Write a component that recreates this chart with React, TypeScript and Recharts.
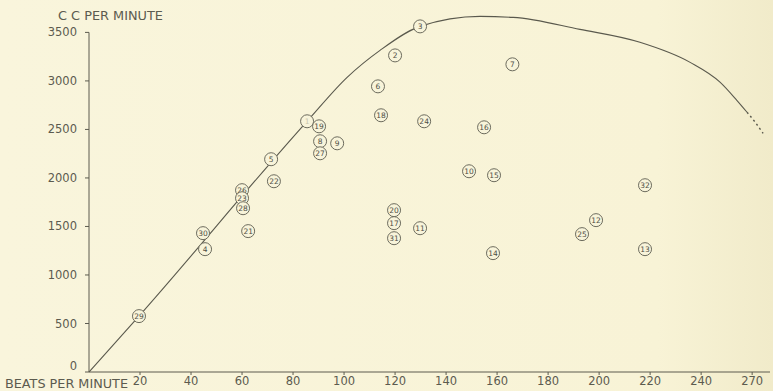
import React from 'react';
import { ComposedChart, Line, Scatter, XAxis, YAxis, ReferenceLine } from 'recharts';

// numbered observations (beats per minute vs c.c. per minute)
const pointLabels = ['29', '30', '4', '26', '23', '28', '21', '5', '22', '1', '19', '8', '27', '9', '6', '18', '2', '3', '20', '17', '31', '11', '24', '10', '16', '15', '14', '7', '25', '12', '32', '13'];
const pointBeats = [19.6, 44.7, 45.5, 60, 60, 60.4, 62.4, 71.4, 72.5, 85.5, 90.2, 90.6, 90.6, 97.3, 113.3, 114.5, 120, 129.8, 119.6, 119.6, 119.6, 129.8, 131.4, 149, 154.9, 158.8, 158.4, 166, 193.3, 198.8, 218, 218];
const pointCc = [576, 1431, 1266, 1874, 1791, 1688, 1452, 2193, 1966, 2584, 2532, 2378, 2254, 2357, 2944, 2646, 3263, 3562, 1668, 1534, 1379, 1482, 2584, 2069, 2522, 2028, 1225, 3171, 1421, 1565, 1925, 1266];

// the drawn curve, then its dotted end
const curveBeats = [0, 19.6, 85.5, 101.2, 114.1, 129.8, 153.3, 166.3, 192.5, 216, 235.7, 247.5, 254, 258];
const curveCc = [0, 576, 2584, 3037, 3315, 3562, 3665, 3655, 3531, 3398, 3191, 2985, 2800, 2677];
const tailBeats = [258, 261.2, 264.3];
const tailCc = [2677, 2574, 2460];

const xTicks = [20, 40, 60, 80, 100, 120, 140, 160, 180, 200, 220, 240, 260];
const xTickLabels = ['20', '40', '60', '80', '100', '120', '140', '160', '180', '200', '220', '240', '270'];
const yTicks = [0, 500, 1000, 1500, 2000, 2500, 3000, 3500];

const points = pointLabels.map((label, i) => ({ x: pointBeats[i], y: pointCc[i], label }));
const curve = curveBeats.map((x, i) => ({ x, y: curveCc[i] }));
const tail = tailBeats.map((x, i) => ({ x, y: tailCc[i] }));

const ink = '#5c5b4f';
const paper = '#f8f4da';
const font = 'DejaVu Sans';

const Marker = (props: any) => {
  const { cx, cy, payload } = props;
  return (
    <g>
      <circle cx={cx} cy={cy} r={6.5} fill={paper} stroke="#6c6b5d" strokeWidth={1} />
      <text
        x={cx}
        y={cy}
        dy="0.35em"
        textAnchor="middle"
        fontSize={7.5}
        fontFamily={font}
        fill={payload.label === '1' ? '#c9c6ad' : '#4f4e44'}
      >
        {payload.label}
      </text>
    </g>
  );
};

// the "0" sits a little above the baseline in the original
const YTick = (props: any) => {
  const { x, y, payload } = props;
  return (
    <text x={x} y={payload.value === 0 ? y - 6 : y} dy="0.35em" textAnchor="end" fontSize={11.5} fontFamily={font} fill={ink}>
      {payload.value}
    </text>
  );
};

export default function App() {
  return (
    <div
      style={{
        position: 'fixed',
        left: 0,
        top: 0,
        width: 773,
        height: 391,
        background: 'linear-gradient(to right, #f9f5dc 0%, #f8f3d6 85%, #f1ebca 100%)',
      }}
    >
      <ComposedChart width={773} height={391} margin={{ top: 13, right: 3, left: 0, bottom: 0 }}>
        <XAxis
          type="number"
          dataKey="x"
          domain={[0, 267]}
          ticks={xTicks}
          interval={0}
          tickFormatter={(v, i) => xTickLabels[i]}
          height={19}
          tickSize={3}
          tickMargin={2}
          stroke={ink}
          tick={{ fill: ink, fontSize: 11.5, fontFamily: font }}
        />
        <YAxis
          type="number"
          dataKey="y"
          domain={[0, 3700]}
          ticks={yTicks}
          interval={0}
          width={89}
          axisLine={false}
          tickSize={4}
          tickMargin={8}
          stroke={ink}
          tick={YTick}
        />
        <ReferenceLine segment={[{ x: 0, y: 0 }, { x: 0, y: 3500 }]} stroke={ink} strokeWidth={1} />
        <Line data={curve} dataKey="y" type="monotone" stroke="#5a594d" strokeWidth={1.1} dot={false} isAnimationActive={false} />
        <Line data={tail} dataKey="y" type="monotone" stroke="#5a594d" strokeWidth={1.4} strokeDasharray="2 3" dot={false} isAnimationActive={false} />
        <Scatter data={points} dataKey="y" shape={Marker} isAnimationActive={false} />
      </ComposedChart>
      <svg width={773} height={391} style={{ position: 'absolute', left: 0, top: 0, pointerEvents: 'none' }}>
        <text x={58} y={20} fontSize={11.5} fontFamily={font} fill={ink} textLength={105} lengthAdjust="spacingAndGlyphs">
          C C PER MINUTE
        </text>
        <text x={5} y={388} fontSize={12} fontFamily={font} fill={ink} textLength={123} lengthAdjust="spacingAndGlyphs">
          BEATS PER MINUTE
        </text>
      </svg>
    </div>
  );
}
